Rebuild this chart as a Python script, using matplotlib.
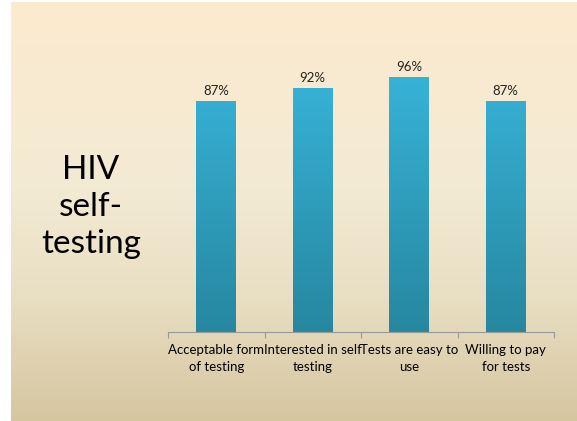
import numpy as np
import matplotlib.pyplot as plt
from matplotlib.colors import LinearSegmentedColormap

plt.rcParams['font.family'] = ['Lato', 'DejaVu Sans']

categories = ['Acceptable form\nof testing', 'Interested in self\ntesting',
              'Tests are easy to\nuse', 'Willing to pay\nfor tests']
values = [87, 92, 96, 87]
value_labels = ['87%', '92%', '96%', '87%']

W, H = 577, 421
fig = plt.figure(figsize=(W / 100, H / 100), dpi=100)
fig.patch.set_facecolor('white')

# pozadí slajdu s přechodem
bg = fig.add_axes([11 / W, 0, (W - 11) / W, (H - 2) / H])
bg_cmap = LinearSegmentedColormap.from_list(
    'bg', [(0, '#D6C6A0'), (0.3, '#E9DFC3'), (0.55, '#F3EAD4'), (1, '#FCEBCE')])
grad = np.linspace(0, 1, 256).reshape(-1, 1)
bg.imshow(grad, aspect='auto', cmap=bg_cmap, origin='lower', extent=[0, 1, 0, 1])
bg.set_axis_off()

bg.text((91 - 11) / (W - 11), 1 - (207 - 2) / (H - 2), 'HIV\nself-\ntesting', fontsize=24,
        ha='center', va='center', linespacing=1.3, color='black')

# graf
x0, x1 = 168, 554
y0, ytop = 332, 66.5
ax = fig.add_axes([x0 / W, 1 - y0 / H, (x1 - x0) / W, (y0 - ytop) / H])
ax.set_facecolor('none')
pos = np.arange(len(values))
bars = ax.bar(pos, values, width=0.41, color='none', edgecolor='none')
bar_cmap = LinearSegmentedColormap.from_list('bar', ['#2787A0', '#37B4D9'])
for b in bars:
    bx = b.get_x()
    im = ax.imshow(grad, aspect='auto', cmap=bar_cmap, origin='lower',
                   extent=[bx, bx + b.get_width(), 0, 100], zorder=2)
    im.set_clip_path(b)
for p, v, lab in zip(pos, values, value_labels):
    ax.text(p, v + 1.4, lab, ha='center', va='bottom', fontsize=9.5, color='#222222')

ax.set_xlim(-0.5, 3.5)
ax.set_ylim(0, 100)
ax.set_yticks([])
for s in ['top', 'right', 'left']:
    ax.spines[s].set_visible(False)
ax.spines['bottom'].set_color('#999999')
ax.set_xticks([-0.5, 0.5, 1.5, 2.5, 3.5])
ax.set_xticklabels([])
ax.tick_params(axis='x', length=4, color='#999999', direction='out')
ax.set_xticks(pos, minor=True)
ax.set_xticklabels(categories, minor=True, fontsize=9.5, linespacing=1.45)
ax.tick_params(axis='x', which='minor', length=0, pad=9)

fig.savefig('out.png', dpi=100)
